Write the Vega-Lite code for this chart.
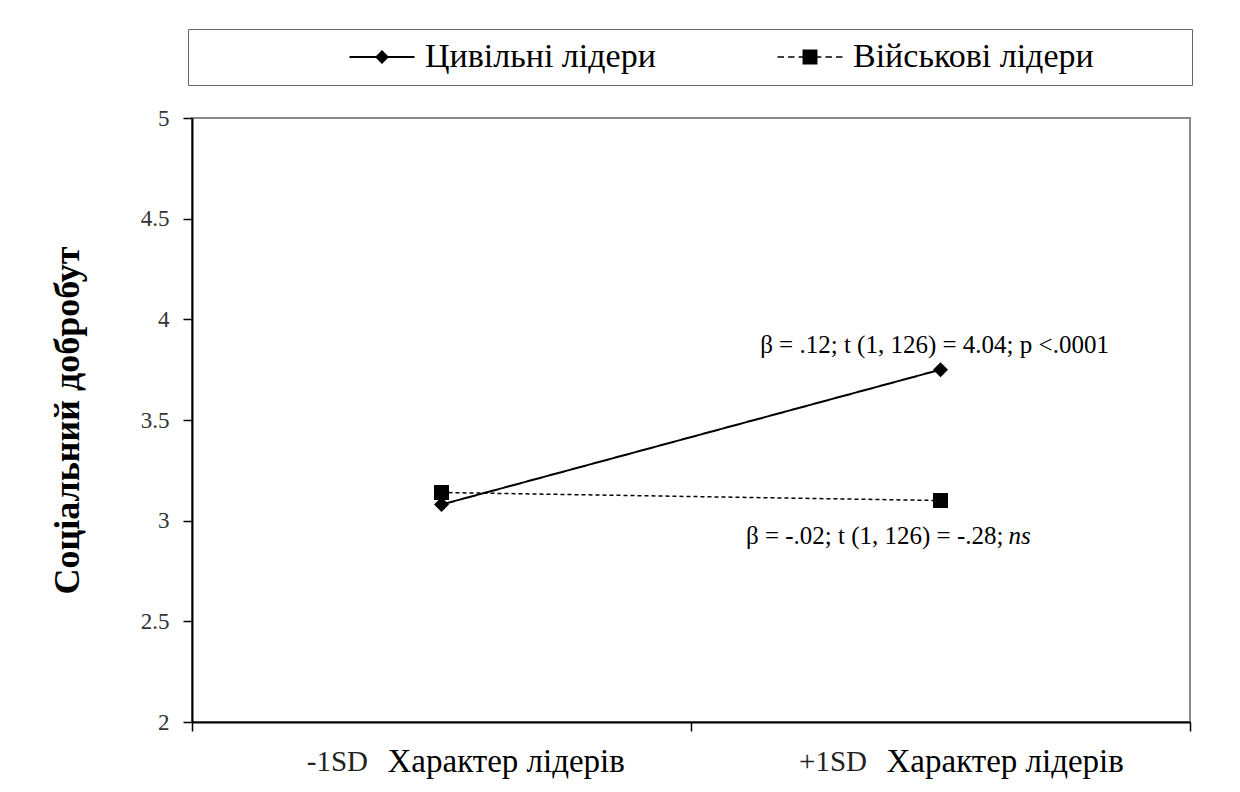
{
  "$schema": "https://vega.github.io/schema/vega-lite/v6.json",
  "width": 998,
  "height": 604,
  "autosize": {"type": "none"},
  "padding": {"left": 192, "top": 118, "right": 50, "bottom": 70},
  "background": "white",
  "config": {
    "font": "Liberation Serif",
    "view": {"stroke": "#8a8a8a", "strokeWidth": 2}
  },
  "datasets": {
    "lines": [
      {"level": "-1SD", "series": "Цивільні лідери", "value": 3.08},
      {"level": "+1SD", "series": "Цивільні лідери", "value": 3.75},
      {"level": "-1SD", "series": "Військові лідери", "value": 3.14},
      {"level": "+1SD", "series": "Військові лідери", "value": 3.10}
    ],
    "notes": [
      {"id": 1, "level": "+1SD", "y": 3.873, "note": "β = .12; t (1, 126) = 4.04; p <.0001"},
      {"id": 2, "level": "+1SD", "y": 2.924, "note": "β = -.02; t (1, 126) = -.28;"},
      {"id": 3, "level": "+1SD", "y": 2.924, "note": "ns"}
    ]
  },
  "layer": [
    {
      "data": {"name": "lines"},
      "mark": {"type": "line", "color": "black"},
      "encoding": {
        "x": {
          "field": "level", "type": "nominal", "sort": ["-1SD", "+1SD"],
          "scale": {"paddingInner": 0, "paddingOuter": 0},
          "axis": {
            "orient": "bottom", "title": null, "grid": false,
            "domainColor": "black", "domainWidth": 2,
            "tickBand": "extent", "tickSize": 9, "tickColor": "black", "tickWidth": 1.5,
            "labelAngle": 0, "labelFontSize": 29, "labelAlign": "right", "labelOffset": -74,
            "labelPadding": 16, "labelColor": "#222", "labelLimit": 0
          }
        },
        "y": {
          "field": "value", "type": "quantitative",
          "scale": {"domain": [2, 5], "nice": false, "zero": false},
          "axis": {
            "values": [2, 2.5, 3, 3.5, 4, 4.5, 5], "format": "~g", "grid": false,
            "domainColor": "black", "domainWidth": 2,
            "tickSize": 9, "tickColor": "black", "tickWidth": 1.5,
            "labelFontSize": 23, "labelColor": "#333", "labelPadding": 14,
            "title": "Соціальний добробут", "titleFontSize": 36, "titleFontWeight": "bold",
            "titleColor": "black", "titlePadding": 54
          }
        },
        "strokeDash": {
          "field": "series", "type": "nominal",
          "scale": {"domain": ["Цивільні лідери", "Військові лідери"], "range": [[1, 0], [4, 3]]},
          "legend": null
        },
        "strokeWidth": {
          "field": "series", "type": "nominal",
          "scale": {"domain": ["Цивільні лідери", "Військові лідери"], "range": [2, 1.5]},
          "legend": null
        }
      }
    },
    {
      "data": {"name": "lines"},
      "mark": {"type": "point", "filled": true, "color": "black", "opacity": 1, "size": 225},
      "encoding": {
        "x": {
          "field": "level", "type": "nominal", "sort": ["-1SD", "+1SD"],
          "axis": {
            "orient": "bottom", "title": null, "grid": false, "domain": false, "ticks": false,
            "tickSize": 0, "labelExpr": "'Характер лідерів'",
            "labelAngle": 0, "labelFontSize": 33, "labelAlign": "left", "labelOffset": -54,
            "labelPadding": 23, "labelColor": "black", "labelLimit": 0
          }
        },
        "y": {"field": "value", "type": "quantitative"},
        "shape": {
          "field": "series", "type": "nominal",
          "scale": {"domain": ["Цивільні лідери", "Військові лідери"], "range": ["diamond", "square"]},
          "legend": null
        }
      }
    },
    {
      "data": {"name": "lines"},
      "mark": {"type": "point", "filled": true, "color": "black", "opacity": 0, "size": 10},
      "encoding": {
        "x": {"field": "level", "type": "nominal", "sort": ["-1SD", "+1SD"], "axis": null},
        "y": {"field": "value", "type": "quantitative"},
        "shape": {
          "field": "series", "type": "nominal",
          "scale": {
            "domain": ["Цивільні лідери", "Військові лідери"],
            "range": [
              "M-2,-0.06H2V0.06H-2ZM-0.43,0L0,-0.43L0.43,0L0,0.43Z",
              "M-2,-0.05H-1.6V0.05H-2ZM-1.35,-0.05H-0.95V0.05H-1.35ZM-0.7,-0.05H-0.46V0.05H-0.7ZM-0.46,-0.46H0.46V0.46H-0.46ZM0.46,-0.05H0.7V0.05H0.46ZM0.95,-0.05H1.35V0.05H0.95ZM1.6,-0.05H2V0.05H1.6ZM22.8,0L22.8,0"
            ]
          },
          "legend": {
            "orient": "none", "legendX": -4, "legendY": -89,
            "direction": "horizontal", "columns": 2, "columnPadding": 121,
            "title": " ", "titleOrient": "left", "titleFontSize": 28, "titlePadding": 166,
            "strokeColor": "#666", "fillColor": "white", "padding": 11,
            "symbolSize": 1056, "symbolStrokeWidth": 0, "symbolOpacity": 1,
            "symbolFillColor": "black", "symbolStrokeColor": "black",
            "labelFontSize": 34, "labelColor": "black", "labelOffset": 26, "labelLimit": 0,
            "encode": {
              "legend": {"strokeWidth": {"value": 2}},
              "symbols": {
                "fill": {"value": "black"},
                "strokeWidth": {"value": 0},
                "opacity": {"value": 1}
              }
            }
          }
        }
      }
    },
    {
      "data": {"name": "notes"},
      "transform": [{"filter": "datum.id == 1"}],
      "mark": {"type": "text", "fontSize": 25, "align": "center", "baseline": "middle", "dx": -6, "color": "black"},
      "encoding": {
        "x": {"field": "level", "type": "nominal", "sort": ["-1SD", "+1SD"], "axis": null},
        "y": {"field": "y", "type": "quantitative"},
        "text": {"field": "note"}
      }
    },
    {
      "data": {"name": "notes"},
      "transform": [{"filter": "datum.id == 2"}],
      "mark": {"type": "text", "fontSize": 25, "align": "right", "baseline": "middle", "dx": 63, "color": "black"},
      "encoding": {
        "x": {"field": "level", "type": "nominal", "sort": ["-1SD", "+1SD"], "axis": null},
        "y": {"field": "y", "type": "quantitative"},
        "text": {"field": "note"}
      }
    },
    {
      "data": {"name": "notes"},
      "transform": [{"filter": "datum.id == 3"}],
      "mark": {"type": "text", "fontSize": 25, "fontStyle": "italic", "align": "left", "baseline": "middle", "dx": 68, "color": "black"},
      "encoding": {
        "x": {"field": "level", "type": "nominal", "sort": ["-1SD", "+1SD"], "axis": null},
        "y": {"field": "y", "type": "quantitative"},
        "text": {"field": "note"}
      }
    }
  ],
  "resolve": {"scale": {"shape": "independent"}, "axis": {"x": "independent"}}
}
